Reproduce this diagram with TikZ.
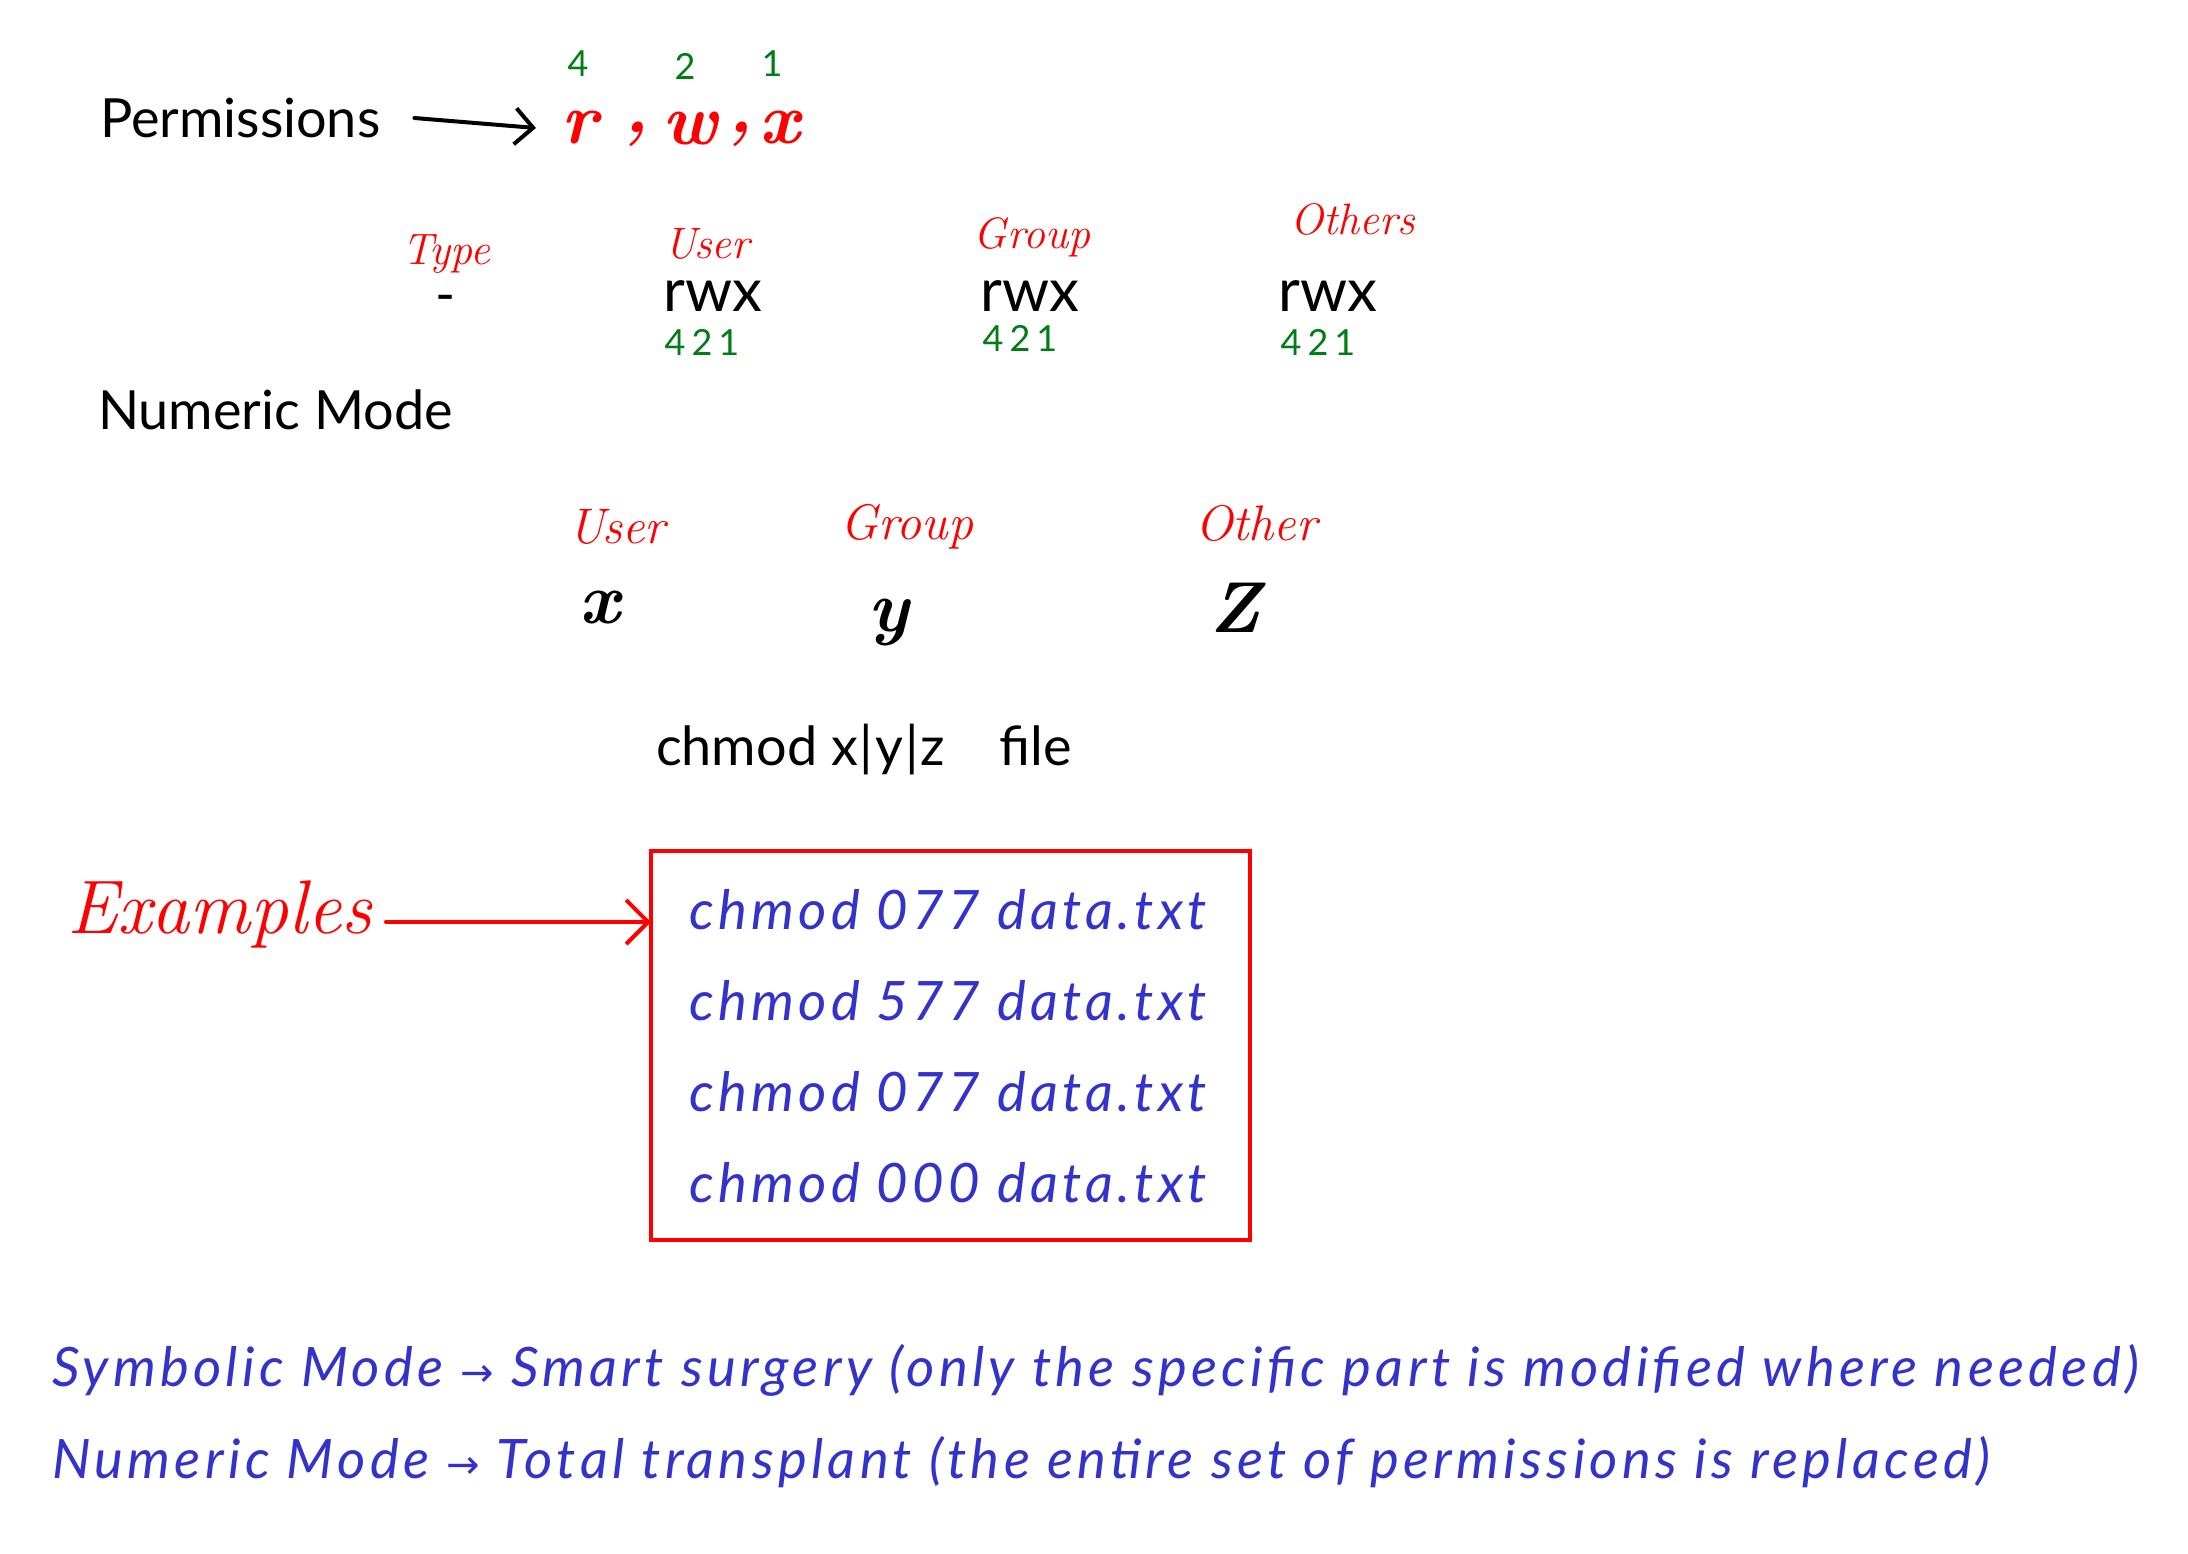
\documentclass[tikz,border=0pt]{standalone}
\usepackage{fontspec}
\setmainfont{Lato}
\newfontfamily\hand{Latin Modern Roman}
\newfontfamily\bluef[LetterSpace=8]{Lato}
\newfontfamily\symf{DejaVu Sans}
\usetikzlibrary{arrows.meta}
\definecolor{hred}{RGB}{255,0,0}
\definecolor{hgreen}{RGB}{0,125,20}
\definecolor{hblue}{RGB}{51,51,204}
\newcommand{\fs}[1]{\fontsize{#1}{#1}\selectfont}
\newcommand{\rarr}{{\symf\fontsize{20}{20}\selectfont →}}
\begin{document}
\begin{tikzpicture}[x=0.5pt,y=-0.5pt,
  every node/.style={inner sep=0pt,outer sep=0pt},
  plain/.style={text=black,font=\fs{27}},
  rwxtxt/.style={text=black,font=\fs{30}},
  bluetxt/.style={text=hblue,font=\bluef\fs{27.2}\itshape},
  redlab/.style={text=hred,font=\hand\itshape\fs{22}},
  redlabbig/.style={text=hred,font=\hand\itshape\fs{25}},
  redsym/.style={text=hred,font=\hand\itshape\bfseries\fs{36}},
  greennum/.style={text=hgreen,font=\fs{18}},
  blackvar/.style={text=black,font=\hand\itshape\bfseries\fs{36}},
  arrblack/.style={draw=black,line width=2pt,line cap=round,-{Straight Barb[length=9pt,width=18pt,line width=2pt]}},
  arrred/.style={draw=hred,line width=2pt,line cap=round,-{Straight Barb[length=11pt,width=22pt,line width=2pt]}},
  exbox/.style={draw=hred,line width=2.2pt,minimum width=299.5pt,minimum height=194.5pt}
]
\useasboundingbox (0,0) rectangle (2188,1553);
\fill[white] (0,0) rectangle (2188,1553);

% Permissions line
\node[plain,anchor=west] (perm) at (100,118) {Permissions};
\node[redsym] (pr) at (580,128) {r};
\node[redsym] (pc1) at (636,134) {,};
\node[redsym] (pw) at (690,128) {w};
\node[redsym] (pc2) at (740,134) {,};
\node[redsym] (px) at (780,128) {x};
\node[greennum] (g4) at (578,64) {4};
\node[greennum] (g2) at (685,66) {2};
\node[greennum] (g1) at (772,64) {1};
\draw[arrblack] ([xshift=17pt]perm.east) -- ([xshift=-13pt]pr.west);

% Type / User / Group / Others
\node[redlab] (ltype) at (446,254) {Type};
\node[plain] (dash) at (446,304) {-};
\node[redlab] (luser) at (707,244) {User};
\node[rwxtxt] (rwx1) at (713,296) {rwx};
\node[greennum] (n1) at (702,342) {4\,2\,1};
\node[redlab] (lgroup) at (1032,237) {Group};
\node[rwxtxt] (rwx2) at (1030,296) {rwx};
\node[greennum] (n2) at (1020,338) {4\,2\,1};
\node[redlab] (lothers) at (1353,219) {Others};
\node[rwxtxt] (rwx3) at (1328,296) {rwx};
\node[greennum] (n3) at (1318,342) {4\,2\,1};

% Numeric Mode
\node[plain,anchor=west] (nummode) at (98,410) {Numeric Mode};

\node[redlabbig] (u2) at (617,527) {User};
\node[redlabbig] (g2l) at (907,527) {Group};
\node[redlabbig] (o2) at (1256,523) {Other};
\node[blackvar] (vx) at (600,608) {x};
\node[blackvar] (vy) at (889,622) {y};
\node[blackvar] (vz) at (1235,608) {Z};

\node[plain,anchor=west] (cmd) at (656,750) {chmod x\kern1pt|\kern1pt y\kern1pt|\kern1pt z\quad file};

% Examples
\node[text=hred,font=\hand\itshape\fs{38},anchor=east] (examples) at (372,914) {Examples};
\node[exbox,anchor=north west] (box) at (651,851) {};
\node[bluetxt,anchor=west] (ex1) at (689,910) {chmod 077 data.txt};
\node[bluetxt,anchor=west] (ex2) at (689,1001) {chmod 577 data.txt};
\node[bluetxt,anchor=west] (ex3) at (689,1092) {chmod 077 data.txt};
\node[bluetxt,anchor=west] (ex4) at (689,1183) {chmod 000 data.txt};
\draw[arrred] ([xshift=7pt,yshift=-4pt]examples.east) -- ([yshift=-4pt]examples.east -| box.west);

% Bottom notes
\node[bluetxt,anchor=west] (sym) at (52,1370) {Symbolic Mode \rarr{} Smart surgery (only the specific part is modified where needed)};
\node[bluetxt,anchor=west] (num) at (52,1462) {Numeric Mode \rarr{} Total transplant (the entire set of permissions is replaced)};
\end{tikzpicture}
\end{document}
